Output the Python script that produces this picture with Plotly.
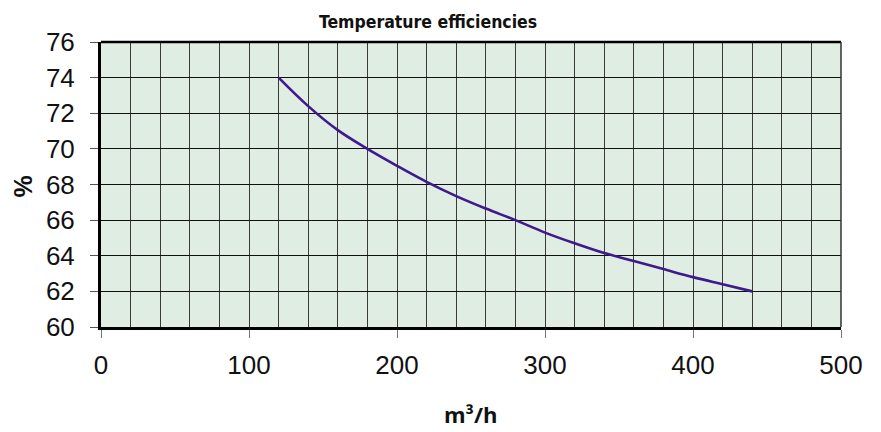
import plotly.graph_objects as go

airflow = [120, 140, 160, 180, 200, 220, 240, 260, 280, 300, 320, 340, 360, 380, 400, 420, 440]
efficiency = [74.0, 72.4, 71.05, 70.0, 69.05, 68.15, 67.35, 66.65, 66.0, 65.3, 64.7, 64.15, 63.7, 63.25, 62.8, 62.4, 62.0]

title_text = "Temperature efficiencies"
x_title = "m³/h"
y_title = "%"

# the page body has an 8px margin; the figure is sized to fit inside the window
W, H = 873, 424
L, R, T, B = 93, 40, 34, 105
PW, PH = W - L - R, H - T - B

fig = go.Figure()
fig.add_trace(go.Scatter(
    x=airflow, y=efficiency, mode="lines",
    line=dict(color="#3f1a8c", width=2.6, shape="spline", smoothing=1.0),
    hoverinfo="skip", showlegend=False,
))

grid_color = "#3a3a3a"
tick_font = dict(family="Liberation Sans, Arial, sans-serif", size=26, color="#111")
fig.update_layout(
    width=W, height=H,
    margin=dict(l=L, r=R, t=T, b=B, autoexpand=False),
    paper_bgcolor="white",
    plot_bgcolor="#e0ede3",
    font=dict(family="Liberation Sans, Arial, sans-serif", size=26, color="#111"),
    showlegend=False,
)
fig.update_xaxes(
    range=[0, 500], dtick=100, tick0=0,
    showgrid=True, gridcolor=grid_color, gridwidth=1,
    minor=dict(dtick=20, tick0=0, showgrid=True, gridcolor=grid_color, gridwidth=1, ticks=""),
    ticks="outside", ticklen=8, tickcolor="#777", tickwidth=1,
    ticklabelstandoff=5, tickfont=tick_font,
    showline=True, linecolor="black", linewidth=3,
    zeroline=False, fixedrange=True, automargin=False,
)
fig.update_yaxes(
    range=[60, 76], dtick=2, tick0=60,
    showgrid=True, gridcolor="#111", gridwidth=1,
    ticks="outside", ticklen=8, tickcolor="#555", tickwidth=1,
    ticklabelstandoff=10, tickfont=tick_font,
    showline=True, linecolor="black", linewidth=3,
    zeroline=False, fixedrange=True, automargin=False,
)
# top and right frame lines
fig.add_shape(type="line", xref="paper", yref="paper", x0=0, x1=1, y0=1, y1=1,
              line=dict(color="black", width=2.5))
fig.add_shape(type="line", xref="paper", yref="paper", x0=1, x1=1, y0=0, y1=1,
              line=dict(color="#333", width=1.5))

fig.add_annotation(text="<b>" + title_text + "</b>", xref="paper", yref="paper",
                   x=(427.5 - 101) / PW, y=1, yanchor="middle", yshift=(42 - 22), showarrow=False,
                   font=dict(family="Liberation Sans Narrow, DejaVu Sans Condensed, sans-serif", size=17.5, color="#111"))
fig.add_annotation(text="<b>" + x_title + "</b>", xref="paper", yref="paper",
                   x=(471 - 101) / PW, y=0, yanchor="middle", yshift=-(414 - 327), showarrow=False,
                   font=dict(family="Open Sans, sans-serif", size=22, color="#111"))
fig.add_annotation(text="<b>" + y_title + "</b>", xref="paper", yref="paper",
                   x=0, xanchor="center", xshift=-(101 - 22), y=(327 - 186.5) / PH, yanchor="middle",
                   textangle=-90, showarrow=False,
                   font=dict(family="Liberation Sans, Arial, sans-serif", size=25, color="#111"))

fig.write_html("out.html")
